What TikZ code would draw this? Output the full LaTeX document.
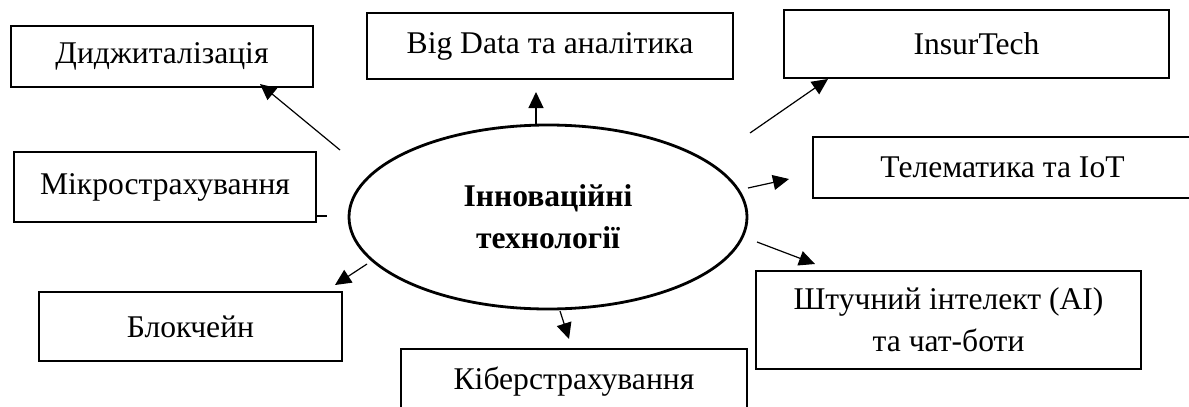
\documentclass[tikz,border=0pt]{standalone}
\usepackage{fontspec}
\setmainfont{Liberation Serif}
\usetikzlibrary{arrows.meta,shapes.geometric}

\tikzset{
  box/.style={draw,line width=1.3pt,inner sep=0pt,align=center,font=\fontsize{15.8}{21}\selectfont},
  arr/.style={line width=0.6pt,-{Triangle[length=8pt,width=7.5pt]}}
}

\begin{document}
\begin{tikzpicture}[x=0.5pt,y=-0.5pt]
	\useasboundingbox (0,0) rectangle (1189,407);
	% centre
	\node[draw,ellipse,line width=1.4pt,minimum width=199pt,minimum height=92pt,inner sep=0pt,align=center,font=\fontsize{15.8}{21}\selectfont\bfseries] (tech) at (548,217) {Інноваційні\\технології};
	% boxes
	\node[box,minimum width=151pt,minimum height=30.5pt] (digit) at (162,56.5) {Диджиталізація};
	\node[box,minimum width=183pt,minimum height=33pt] (bigdata) at (550,46) {Big Data та аналітика};
	\node[box,minimum width=192.5pt,minimum height=34pt] (insur) at (976.5,44) {InsurTech};
	\node[box,minimum width=189.5pt,minimum height=30.5pt] (telem) at (1002.5,167.5) {Телематика та IoT};
	\node[box,minimum width=192.5pt,minimum height=49pt] (ai) at (948.5,320) {Штучний інтелект (AI)\\та чат-боти};
	\node[box,minimum width=151pt,minimum height=35pt] (micro) at (165,187) {Мікрострахування};
	\node[box,minimum width=151.5pt,minimum height=34.5pt] (block) at (190.5,326.5) {Блокчейн};
	\node[box,minimum width=173pt,minimum height=33pt] (cyber) at (574,382) {Кіберстрахування};
	% arrow ends
	\coordinate (d1) at (340,150); \coordinate (d2) at (260,84);
	\coordinate (b1) at (536,124); \coordinate (b2) at (536,92);
	\coordinate (i1) at (750,133); \coordinate (i2) at (828,79);
	\coordinate (t1) at (748,188); \coordinate (t2) at (789,179);
	\coordinate (a1) at (757,242); \coordinate (a2) at (815,264);
	\coordinate (k1) at (560,311); \coordinate (k2) at (569,339);
	\coordinate (l1) at (367,264); \coordinate (l2) at (335,285);
	\coordinate (m1) at (327,216);
	\draw[arr] (d1) -- (d2);
	\draw[arr] (b1) -- (b2);
	\draw[arr] (i1) -- (i2);
	\draw[arr] (t1) -- (t2);
	\draw[arr] (a1) -- (a2);
	\draw[arr] (k1) -- (k2);
	\draw[arr] (l1) -- (l2);
	\draw[line width=0.6pt] (micro.east |- m1) -- (m1);
\end{tikzpicture}
\end{document}
